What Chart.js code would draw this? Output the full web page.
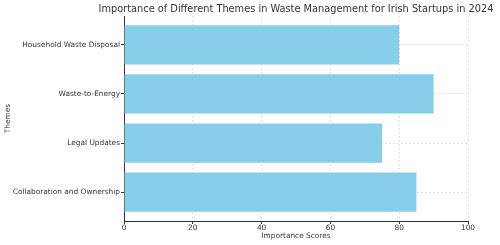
<!DOCTYPE html>
<html>
<head>
<meta charset="utf-8">
<script src="https://cdn.jsdelivr.net/npm/chart.js@4"></script>
<style>
  html, body { margin: 0; padding: 0; background: #fff; }
  #wrap { width: 500px; height: 245px; }
</style>
</head>
<body>
<div id="wrap"><canvas id="grafico"></canvas></div>
<script>
const chartTitle = 'Importance of Different Themes in Waste Management for Irish Startups in 2024';
const themes = ['Household Waste Disposal', 'Waste-to-Energy', 'Legal Updates', 'Collaboration and Ownership'];
const scores = [80, 90, 75, 85];
const xTicks = [0, 20, 40, 60, 80, 100];

const fontBase = 'DejaVu Sans';
const inkColor = '#333333';
const gridColor = 'rgba(0,0,0,0.11)';

var ctx = document.getElementById('grafico').getContext('2d');

// titulo centrado sobre el area del grafico (como matplotlib)
const tituloCentrado = {
    id: 'tituloCentrado',
    afterDraw(chart) {
        const c = chart.ctx;
        const area = chart.chartArea;
        c.save();
        c.fillStyle = inkColor;
        c.font = '9.8px "' + fontBase + '"';
        c.textAlign = 'center';
        c.textBaseline = 'middle';
        c.fillText(chartTitle, (area.left + area.right) / 2, 9.5);
        c.restore();
    }
};

new Chart(ctx, {
    type: 'bar',
    data: {
        datasets: [{
            label: 'Importance Scores',
            data: scores.map((v, i) => ({ x: v, y: i })),
            backgroundColor: '#87CEEB',
            borderWidth: 0,
            categoryPercentage: 1,
            barPercentage: 0.8
        }]
    },
    options: {
        indexAxis: 'y',
        responsive: true,
        maintainAspectRatio: false,
        animation: false,
        layout: { padding: { left: 0, right: 32, top: 16, bottom: 0 } },
        plugins: {
            legend: { display: false },
            tooltip: { enabled: false },
            title: { display: false }
        },
        scales: {
            x: {
                type: 'linear',
                min: 0,
                max: 100,
                z: 1,
                afterBuildTicks: (scale) => { scale.ticks = xTicks.map(v => ({ value: v })); },
                ticks: { color: inkColor, font: { family: fontBase, size: 7.4 }, padding: 0, maxRotation: 0 },
                grid: { color: gridColor, tickColor: inkColor, tickLength: 3, lineWidth: 1, tickBorderDash: [] },
                border: { display: true, color: inkColor, width: 1, dash: [2, 2] },
                title: {
                    display: true,
                    text: 'Importance Scores',
                    color: inkColor,
                    font: { family: fontBase, size: 7.4 },
                    padding: { top: 0, bottom: 4 }
                },
                afterFit: (scale) => { scale.height = 24; }
            },
            y: {
                type: 'linear',
                reverse: true,
                offset: false,
                min: -0.59,
                max: 3.59,
                z: 1,
                afterBuildTicks: (scale) => { scale.ticks = themes.map((t, i) => ({ value: i })); },
                ticks: {
                    color: inkColor,
                    font: { family: fontBase, size: 7.4 },
                    padding: 1,
                    callback: (value) => themes[value]
                },
                grid: { offset: false, color: gridColor, tickColor: inkColor, tickLength: 3, lineWidth: 1, tickBorderDash: [] },
                border: { display: true, color: inkColor, width: 1, dash: [2, 2] },
                title: {
                    display: true,
                    text: 'Themes',
                    color: inkColor,
                    font: { family: fontBase, size: 7.4 },
                    padding: { top: 4, bottom: 0 }
                },
                afterFit: (scale) => { scale.width = 124; }
            }
        }
    },
    plugins: [tituloCentrado]
});
</script>
</body>
</html>
